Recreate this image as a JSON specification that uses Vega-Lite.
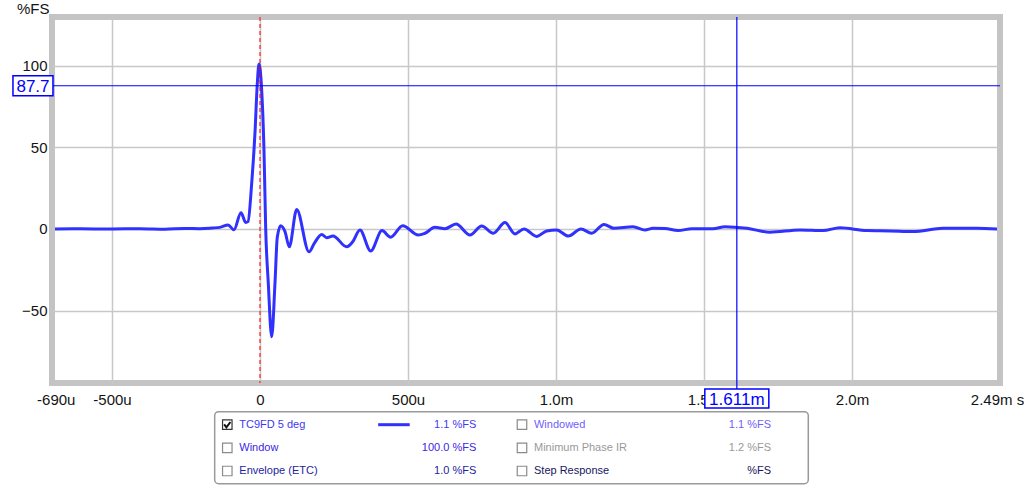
{
  "$schema": "https://vega.github.io/schema/vega-lite/v6.json",
  "width": 948,
  "height": 366,
  "autosize": {"type": "none"},
  "padding": {"left": 52, "top": 17, "right": 24, "bottom": 102},
  "background": "white",
  "config": {
    "view": {"stroke": "#c4c4c4", "strokeWidth": 6},
    "font": "Liberation Sans"
  },
  "datasets": {
    "ir": [
      {"t": -0.6926, "v": 0}, {"t": -0.608, "v": 0.1}, {"t": -0.507, "v": 0}, {"t": -0.405, "v": 0.2},
      {"t": -0.321, "v": -0.1}, {"t": -0.253, "v": 0.3}, {"t": -0.203, "v": 0.2}, {"t": -0.162, "v": 0.6},
      {"t": -0.135, "v": 1}, {"t": -0.108, "v": 2.5}, {"t": -0.0878, "v": -0.5}, {"t": -0.0642, "v": 10},
      {"t": -0.0483, "v": 4}, {"t": -0.0405, "v": 4.5}, {"t": -0.028, "v": 28}, {"t": -0.0169, "v": 59},
      {"t": -0.0091, "v": 89}, {"t": -0.0034, "v": 101}, {"t": 0.0044, "v": 89}, {"t": 0.0135, "v": 48},
      {"t": 0.0193, "v": 0}, {"t": 0.028, "v": -33}, {"t": 0.0395, "v": -66}, {"t": 0.0507, "v": -33},
      {"t": 0.0584, "v": -5}, {"t": 0.0699, "v": 2}, {"t": 0.0845, "v": -1.6}, {"t": 0.099, "v": -10.9},
      {"t": 0.124, "v": 12}, {"t": 0.1655, "v": -14}, {"t": 0.1834, "v": -8.8}, {"t": 0.2084, "v": -3.3},
      {"t": 0.2253, "v": -5.3}, {"t": 0.2466, "v": -4.3}, {"t": 0.2929, "v": -10.9}, {"t": 0.3132, "v": -7.8},
      {"t": 0.3378, "v": -0.6}, {"t": 0.374, "v": -13.5}, {"t": 0.4122, "v": -1}, {"t": 0.4416, "v": -5},
      {"t": 0.4821, "v": 2}, {"t": 0.5348, "v": -3.7}, {"t": 0.5574, "v": -2.6}, {"t": 0.5912, "v": 1},
      {"t": 0.625, "v": 0.2}, {"t": 0.6622, "v": 3}, {"t": 0.7095, "v": -3.7}, {"t": 0.749, "v": 1.8},
      {"t": 0.7882, "v": -2.6}, {"t": 0.8277, "v": 3.9}, {"t": 0.8615, "v": -3}, {"t": 0.8919, "v": 0},
      {"t": 0.9348, "v": -4.6}, {"t": 0.9686, "v": -1.2}, {"t": 1.0024, "v": -0.6}, {"t": 1.0416, "v": -4.3},
      {"t": 1.0845, "v": 0}, {"t": 1.1206, "v": -2.6}, {"t": 1.1622, "v": 2.8}, {"t": 1.1959, "v": 0.4},
      {"t": 1.2601, "v": 1.4}, {"t": 1.3007, "v": -0.6}, {"t": 1.3277, "v": 0.4}, {"t": 1.3682, "v": 0.3},
      {"t": 1.4122, "v": -1}, {"t": 1.4595, "v": 0.2}, {"t": 1.5304, "v": 0.2}, {"t": 1.5709, "v": 1.4},
      {"t": 1.6453, "v": 0.4}, {"t": 1.723, "v": -2}, {"t": 1.8243, "v": -0.6}, {"t": 1.902, "v": -1},
      {"t": 1.9595, "v": 0.8}, {"t": 2.0507, "v": -1}, {"t": 2.1284, "v": -1.2}, {"t": 2.2061, "v": -1.6},
      {"t": 2.3074, "v": 0.4}, {"t": 2.4223, "v": 0.4}, {"t": 2.49, "v": 0}
    ],
    "cursors": [
      {"axis": "y", "value": 87.7, "label": "87.7"},
      {"axis": "x", "value": 1.611, "label": "1.611m"}
    ],
    "legend": [
      {"name": "TC9FD 5 deg", "val": "1.1 %FS", "col": 0, "row": 0, "checked": true},
      {"name": "Window", "val": "100.0 %FS", "col": 0, "row": 1, "checked": false},
      {"name": "Envelope (ETC)", "val": "1.0 %FS", "col": 0, "row": 2, "checked": false},
      {"name": "Windowed", "val": "1.1 %FS", "col": 1, "row": 0, "checked": false},
      {"name": "Minimum Phase IR", "val": "1.2 %FS", "col": 1, "row": 1, "checked": false},
      {"name": "Step Response", "val": "%FS", "col": 1, "row": 2, "checked": false}
    ]
  },
  "layer": [
    {
      "data": {"name": "ir"},
      "mark": {"type": "line", "color": "#3030ff", "strokeWidth": 3, "interpolate": "monotone", "strokeJoin": "round"},
      "encoding": {
        "x": {
          "field": "t", "type": "quantitative",
          "scale": {"domain": [-0.7027, 2.5001], "nice": false, "zero": false},
          "axis": {
            "title": null,
            "values": [-0.69, -0.5, 0, 0.5, 1, 1.5, 2, 2.49],
            "labelExpr": "datum.value == -0.69 ? '-690u' : datum.value == -0.5 ? '-500u' : datum.value == 0 ? '0' : datum.value == 0.5 ? '500u' : datum.value == 1 ? '1.0m' : datum.value == 1.5 ? '1.5m' : datum.value == 2 ? '2.0m' : '2.49m s'",
            "grid": true,
            "gridColor": {"condition": {"test": "datum.value < -0.6 || datum.value > 2.4", "value": "transparent"}, "value": "#c8c8c8"},
            "gridWidth": 1.5,
            "ticks": false,
            "tickSize": 0,
            "domain": false,
            "labelFontSize": 15,
            "labelColor": "#141414",
            "labelPadding": 9,
            "labelFlush": false,
            "labelOverlap": false,
            "labelBound": false
          }
        },
        "y": {
          "field": "v", "type": "quantitative",
          "scale": {"domain": [-94.3, 129.8], "nice": false, "zero": false},
          "axis": {
            "title": "%FS",
            "titleAngle": 0,
            "titleAlign": "right",
            "titleBaseline": "alphabetic",
            "titleX": -3,
            "titleY": -4,
            "titleFontSize": 15,
            "titleFontWeight": "normal",
            "titleColor": "#141414",
            "values": [-50, 0, 50, 100],
            "grid": true,
            "gridColor": "#c8c8c8",
            "gridWidth": 1.5,
            "ticks": false,
            "tickSize": 0,
            "domain": false,
            "labelFontSize": 15,
            "labelColor": "#141414",
            "labelPadding": 5
          }
        }
      }
    },
    {
      "data": {"values": [{}]},
      "mark": {"type": "rule", "color": "#ff0000", "strokeWidth": 1, "strokeDash": [4, 3]},
      "encoding": {
        "x": {"datum": 0, "type": "quantitative", "axis": null, "scale": {"domain": [-0.7027, 2.5001], "nice": false, "zero": false}},
        "y": {"datum": 129.8, "type": "quantitative", "axis": null, "scale": {"domain": [-94.3, 129.8], "nice": false, "zero": false}},
        "y2": {"datum": -94.3}
      }
    },
    {
      "data": {"name": "cursors"},
      "transform": [{"filter": "datum.axis == 'y'"}],
      "mark": {"type": "rule", "color": "#0000ff", "strokeWidth": 1.2},
      "encoding": {
        "y": {"field": "value", "type": "quantitative", "axis": null, "scale": {"domain": [-94.3, 129.8], "nice": false, "zero": false}}
      }
    },
    {
      "data": {"name": "cursors"},
      "transform": [{"filter": "datum.axis == 'y'"}],
      "mark": {"type": "point", "shape": "M-1,-0.5H1V0.5H-1Z", "size": 1600, "fill": "white", "stroke": "#0000ff", "strokeWidth": 1.5, "opacity": 1, "fillOpacity": 1},
      "encoding": {
        "x": {"datum": -0.767, "type": "quantitative", "axis": null, "scale": {"domain": [-0.7027, 2.5001], "nice": false, "zero": false}},
        "y": {"field": "value", "type": "quantitative", "axis": null, "scale": {"domain": [-94.3, 129.8], "nice": false, "zero": false}}
      }
    },
    {
      "data": {"name": "cursors"},
      "transform": [{"filter": "datum.axis == 'y'"}],
      "mark": {"type": "text", "color": "#0000ff", "fontSize": 17, "align": "center", "baseline": "middle", "dy": 1},
      "encoding": {
        "x": {"datum": -0.767, "type": "quantitative", "axis": null, "scale": {"domain": [-0.7027, 2.5001], "nice": false, "zero": false}},
        "y": {"field": "value", "type": "quantitative", "axis": null, "scale": {"domain": [-94.3, 129.8], "nice": false, "zero": false}},
        "text": {"field": "label"}
      }
    },
    {
      "data": {"name": "cursors"},
      "transform": [{"filter": "datum.axis == 'x'"}],
      "mark": {"type": "rule", "color": "#0000ff", "strokeWidth": 1.2},
      "encoding": {
        "x": {"field": "value", "type": "quantitative", "axis": null, "scale": {"domain": [-0.7027, 2.5001], "nice": false, "zero": false}},
        "y": {"datum": 129.8, "type": "quantitative", "axis": null, "scale": {"domain": [-94.3, 129.8], "nice": false, "zero": false}},
        "y2": {"datum": -100}
      }
    },
    {
      "data": {"name": "cursors"},
      "transform": [{"filter": "datum.axis == 'x'"}],
      "mark": {"type": "point", "shape": "M-1,-0.3H1V0.3H-1Z", "size": 4096, "fill": "white", "stroke": "#0000ff", "strokeWidth": 1.5, "opacity": 1, "fillOpacity": 1},
      "encoding": {
        "x": {"field": "value", "type": "quantitative", "axis": null, "scale": {"domain": [-0.7027, 2.5001], "nice": false, "zero": false}},
        "y": {"datum": -103.8, "type": "quantitative", "axis": null, "scale": {"domain": [-94.3, 129.8], "nice": false, "zero": false}}
      }
    },
    {
      "data": {"name": "cursors"},
      "transform": [{"filter": "datum.axis == 'x'"}],
      "mark": {"type": "text", "color": "#0000ff", "fontSize": 17, "align": "center", "baseline": "middle", "dy": 1},
      "encoding": {
        "x": {"field": "value", "type": "quantitative", "axis": null, "scale": {"domain": [-0.7027, 2.5001], "nice": false, "zero": false}},
        "y": {"datum": -103.8, "type": "quantitative", "axis": null, "scale": {"domain": [-94.3, 129.8], "nice": false, "zero": false}},
        "text": {"field": "label"}
      }
    },
    {
      "data": {"values": [{}]},
      "mark": {"type": "rect", "fill": "white", "stroke": "#9a9a9a", "strokeWidth": 1.5, "cornerRadius": 4},
      "encoding": {
        "x": {"datum": -0.0428, "type": "quantitative", "axis": null, "scale": {"domain": [-0.5948, 2.622], "nice": false, "zero": false}},
        "x2": {"datum": 1.9715},
        "y": {"datum": -0.5616, "type": "quantitative", "axis": null, "scale": {"domain": [-17.611, -1.801], "nice": false, "zero": false, "reverse": true}},
        "y2": {"datum": 2.5486}
      }
    },
    {
      "data": {"name": "legend"},
      "mark": {"type": "point", "shape": "square", "size": 90, "fill": "white", "strokeWidth": 1.2, "opacity": 1},
      "encoding": {
        "x": {"field": "col", "type": "quantitative", "axis": null, "scale": {"domain": [-0.5948, 2.622], "nice": false, "zero": false}},
        "y": {"field": "row", "type": "quantitative", "axis": null, "scale": {"domain": [-17.611, -1.801], "nice": false, "zero": false, "reverse": true}},
        "stroke": {"condition": {"test": "datum.checked", "value": "#333333"}, "value": "#8a8a8a"}
      }
    },
    {
      "data": {"name": "legend"},
      "transform": [{"filter": "datum.checked"}],
      "mark": {"type": "point", "shape": "M-0.7,-0.05L-0.2,0.6L0.7,-0.6", "size": 81, "filled": false, "stroke": "#111111", "strokeWidth": 2, "opacity": 1},
      "encoding": {
        "x": {"field": "col", "type": "quantitative", "axis": null, "scale": {"domain": [-0.5948, 2.622], "nice": false, "zero": false}},
        "y": {"field": "row", "type": "quantitative", "axis": null, "scale": {"domain": [-17.611, -1.801], "nice": false, "zero": false, "reverse": true}}
      }
    },
    {
      "data": {"name": "legend"},
      "mark": {"type": "text", "align": "left", "baseline": "middle", "dx": 12, "fontSize": 11, "font": "Liberation Sans"},
      "encoding": {
        "x": {"field": "col", "type": "quantitative", "axis": null, "scale": {"domain": [-0.5948, 2.622], "nice": false, "zero": false}},
        "y": {"field": "row", "type": "quantitative", "axis": null, "scale": {"domain": [-17.611, -1.801], "nice": false, "zero": false, "reverse": true}},
        "text": {"field": "name"},
        "color": {"field": "name", "type": "nominal", "legend": null,
          "scale": {"domain": ["TC9FD 5 deg", "Window", "Envelope (ETC)", "Windowed", "Minimum Phase IR", "Step Response"],
                    "range": ["#4338f0", "#3a26e6", "#24249c", "#7060f8", "#999999", "#16165e"]}}
      }
    },
    {
      "data": {"name": "legend"},
      "mark": {"type": "text", "align": "right", "baseline": "middle", "dx": 249, "fontSize": 11, "font": "Liberation Sans"},
      "encoding": {
        "x": {"field": "col", "type": "quantitative", "axis": null, "scale": {"domain": [-0.5948, 2.622], "nice": false, "zero": false}},
        "y": {"field": "row", "type": "quantitative", "axis": null, "scale": {"domain": [-17.611, -1.801], "nice": false, "zero": false, "reverse": true}},
        "text": {"field": "val"},
        "color": {"field": "name", "type": "nominal", "legend": null,
          "scale": {"domain": ["TC9FD 5 deg", "Window", "Envelope (ETC)", "Windowed", "Minimum Phase IR", "Step Response"],
                    "range": ["#4338f0", "#3a26e6", "#24249c", "#7060f8", "#999999", "#16165e"]}}
      }
    },
    {
      "data": {"name": "legend"},
      "transform": [{"filter": "datum.checked"}],
      "mark": {"type": "rule", "color": "#3030ff", "strokeWidth": 3},
      "encoding": {
        "x": {"datum": 0.512, "type": "quantitative", "axis": null, "scale": {"domain": [-0.5948, 2.622], "nice": false, "zero": false}},
        "x2": {"datum": 0.619},
        "y": {"field": "row", "type": "quantitative", "axis": null, "scale": {"domain": [-17.611, -1.801], "nice": false, "zero": false, "reverse": true}}
      }
    }
  ],
  "resolve": {"scale": {"x": "independent", "y": "independent", "color": "independent"}}
}
